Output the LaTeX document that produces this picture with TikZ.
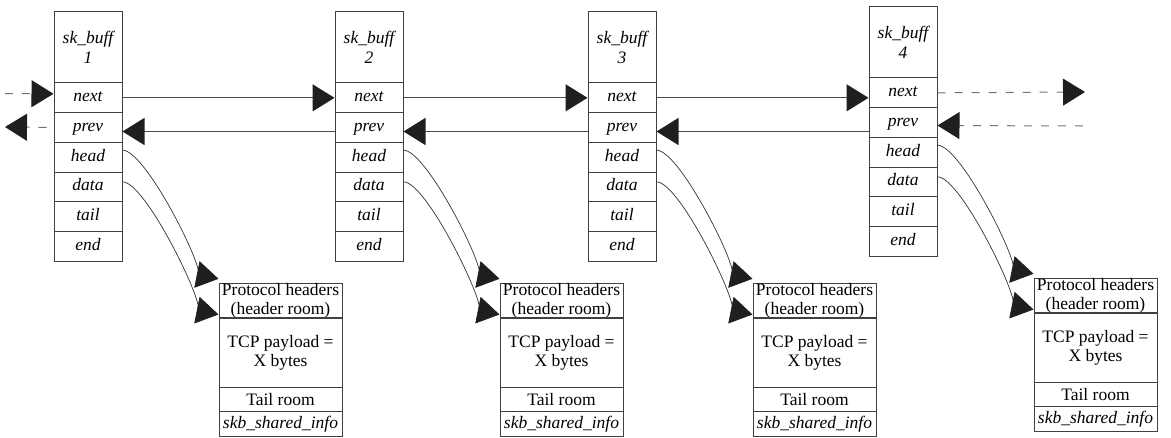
\documentclass[tikz,border=0pt]{standalone}
\usepackage{fontspec}
\setmainfont{Liberation Serif}
\usetikzlibrary{arrows.meta}

\begin{document}
\fontsize{17.5}{19.5}\selectfont
\begin{tikzpicture}[x=1pt,y=-1pt,
	title/.style={ draw=black!75, line width=1pt, inner sep=0pt, minimum width=68pt, minimum height=71pt, align=center, font=\itshape },
	field/.style={ draw=black!75, line width=1pt, inner sep=0pt, minimum width=68pt, minimum height=29.67pt, text height=12pt, text depth=4pt, font=\itshape },
	room/.style={ draw=black!75, line width=1pt, inner sep=0pt, minimum width=123pt, align=center },
	link/.style={ draw=black!70, line width=1.2pt, -{Triangle[length=22pt,width=27pt,color=black!88]} },
	ext/.style={ draw=black!55, line width=1pt, dash pattern=on 8pt off 9pt, -{Triangle[length=22pt,width=27pt,color=black!88]} },
	ptr/.style={ draw=black!80, line width=0.7pt, -{Triangle[length=22pt,width=27pt,color=black!88]} }
]
\useasboundingbox (0,0) rectangle (1171,438);

% one sk_buff and its data buffer per column
\foreach \n/\px/\py in {1/54/0,2/335/0,3/588/0,4/869/-5} {
\begin{scope}[shift={(\px,\py)}]
	\node at (34,47.5) (sk\n) [title] {sk\_buff\\\n};
	\foreach \f [count=\k] in {next,prev,head,data,tail,end}
		\node at (34,{83+29.67*(\k-0.5)}) (sk\n\f) [field] {\f};

	\node at (226.5,301) (buf\n hdr) [room,minimum height=34pt] {Protocol headers\\(header room)};
	\node at (226.5,353) (buf\n pay) [room,minimum height=70pt] {TCP payload =\\X bytes};
	\node at (226.5,400) (buf\n tail) [room,minimum height=24pt] {Tail room};
	\node at (226.5,424.5) (buf\n info) [room,minimum height=25pt,font=\itshape] {skb\_shared\_info};

	\draw[ptr] ([yshift=7pt]sk\n head.east) .. controls +(24,0) and +(-10,-2) .. ([yshift=4pt]buf\n hdr.north west);
	\draw[ptr] ([yshift=5pt]sk\n data.east) .. controls +(24,0) and +(-10,-2) .. ([yshift=3pt]buf\n pay.north west);
\end{scope}
}

% next / prev links, level with the left box
\foreach \a/\b in {1/2,2/3,3/4} {
	\draw[link] (sk\a next.east) -- (sk\b next.west |- sk\a next.east);
	\draw[link] ([yshift=-4pt]sk\b prev.west |- sk\a prev.east) -- ([yshift=-4pt]sk\a prev.east);
}

% open ends of the list
\coordinate (lin) at (5,93.5);
\coordinate (lout) at (5,127);
\coordinate (rout) at (1085,92);
\coordinate (rin) at (1083,126);
\draw[ext] (lin) -- ([yshift=4pt]sk1next.west);
\draw[ext,shorten <=7pt] (sk1prev.west) -- (lout);
\draw[ext] (sk4next.east) -- (rout);
\draw[ext] (rin) -- ([yshift=-3pt]sk4prev.east);

\end{tikzpicture}
\end{document}
